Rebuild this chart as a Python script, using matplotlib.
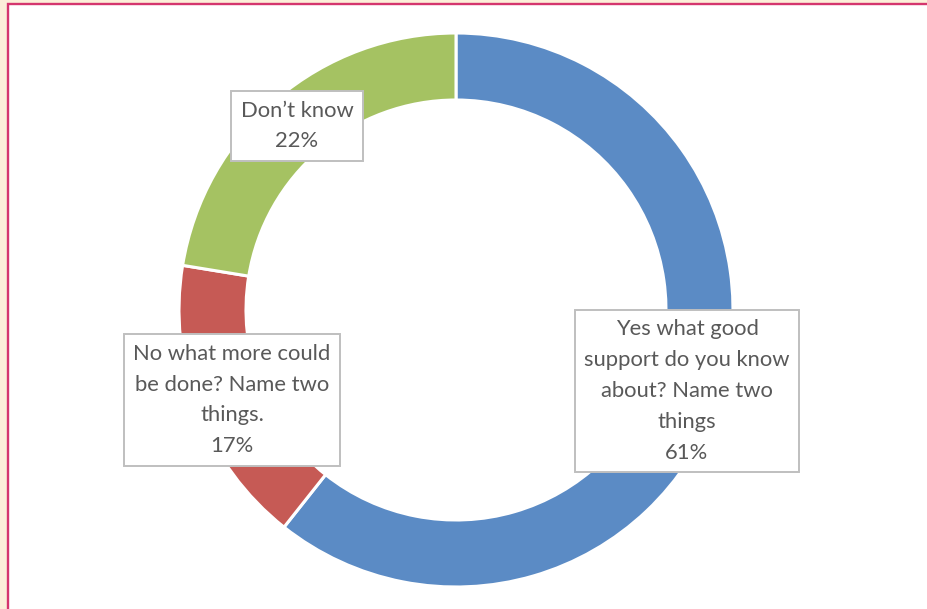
import matplotlib
matplotlib.use("Agg")
import matplotlib.pyplot as plt
from matplotlib.patches import Rectangle

# data
categories = ["Yes what good\nsupport do you know\nabout? Name two\nthings",
              "No what more could\nbe done? Name two\nthings.",
              "Don\u2019t know"]
shares = [60.6, 16.9, 22.4]
colors = ["#5B8BC5", "#C65A55", "#A5C262"]

# label box centres in pixel coordinates (x from left, y from top)
label_pos = [(687, 391), (232, 400), (297, 126)]

W, H = 928, 609
fig = plt.figure(figsize=(W / 100, H / 100), dpi=100)
fig.patch.set_facecolor("#FCEFD9")

# white panel with pink frame, cropped at right and bottom
fig.patches.append(Rectangle((8.5 / W, -0.05), 1.1, (H - 4.0) / H + 0.05,
                             transform=fig.transFigure, facecolor="white",
                             edgecolor="#D4366E", linewidth=1.7, zorder=-10))

ax = fig.add_axes([0, 0, 1, 1])
ax.patch.set_alpha(0)

cx, cy, r = 456, H - 310, 277
ax.pie(shares, colors=colors, startangle=90, counterclock=False,
       center=(cx, cy), radius=r,
       wedgeprops=dict(width=67, edgecolor="white", linewidth=2.2))

for name, val, (x, y) in zip(categories, shares, label_pos):
    ax.text(x, H - y, f"{name}\n{val:.0f}%", ha="center", va="center",
            fontsize=15.8, family="Lato", color="#595959", linespacing=1.68,
            bbox=dict(boxstyle="square,pad=0.42", facecolor="white",
                      edgecolor="#BFBFBF", linewidth=1.4))

ax.set_xlim(0, W)
ax.set_ylim(0, H)
ax.set_aspect("equal")
ax.axis("off")

fig.savefig("out.png", dpi=100, facecolor=fig.get_facecolor())
